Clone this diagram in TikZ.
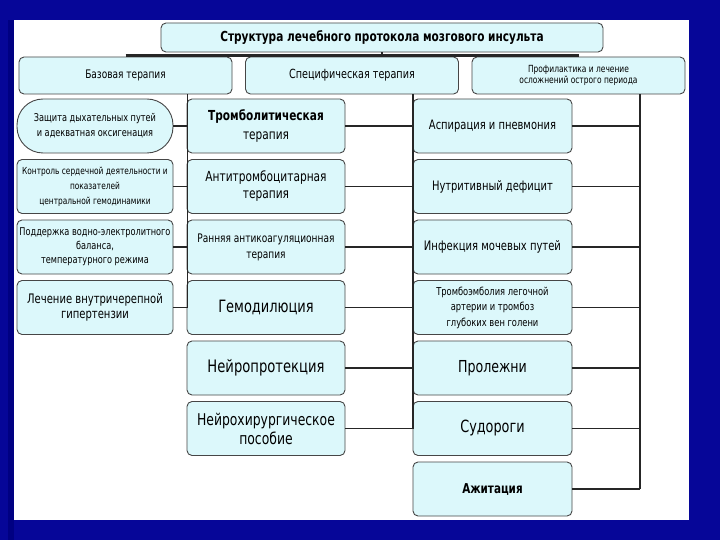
\documentclass[tikz,border=0pt]{standalone}
\usepackage{fontspec}
\setmainfont{DejaVu Sans Condensed}[FakeStretch=0.85]
\newcommand\myfs[2]{\fontsize{#1}{#2}\selectfont}
\definecolor{navy}{RGB}{6,6,152}
\definecolor{navydark}{RGB}{0,0,130}
\definecolor{boxfill}{RGB}{220,248,251}
\definecolor{boxline}{RGB}{70,70,70}
\tikzset{
  box/.style={draw=boxline, fill=boxfill, line width=0.9pt, rounded corners=5pt,
    align=center, inner sep=1pt, text=black},
  lcol/.style={box, minimum width=156pt, minimum height=54pt},
  mcol/.style={box, minimum width=158pt, minimum height=54pt},
  rcol/.style={box, minimum width=159pt, minimum height=54pt},
  head/.style={box, minimum width=213pt, minimum height=37pt},
  link/.style={line width=1.6pt, draw=black!85},
}
\begin{document}
\begin{tikzpicture}[x=1pt,y=-1pt]
\useasboundingbox (0,0) rectangle (720,540);
\fill[navy] (0,0) rectangle (720,540);
\fill[navydark] (8,20) rectangle (14,540);
\fill[white] (14,20) rectangle (689,520);

% title and heads
\node[box, minimum width=442pt, minimum height=29pt, font=\myfs{13.8}{15}\bfseries] (title) at (382,37.5)
  {Структура лечебного протокола мозгового инсульта};
\node[head, font=\myfs{11.8}{14}] (baz) at (125.5,75.5) {Базовая терапия};
\node[head, font=\myfs{12.6}{14}] (spec) at (352,75.5) {Специфическая терапия};
\node[head, font=\myfs{9.8}{11.5}] (prof) at (578.5,75.5) {Профилактика и лечение\\осложнений острого периода};

% left column
\node[lcol, rounded corners=26pt, font=\myfs{10.7}{15}] (l1) at (95,126) {Защита дыхательных путей\\и адекватная оксигенация};
\node[lcol, font=\myfs{9.7}{15}] (l2) at (95,186.5) {Контроль сердечной деятельности и\\показателей\\центральной гемодинамики};
\node[lcol, font=\myfs{10.7}{14}] (l3) at (95,247) {Поддержка водно-электролитного\\баланса,\\температурного режима};
\node[lcol, font=\myfs{13.1}{14.5}] (l4) at (95,307.5) {Лечение внутричерепной\\гипертензии};

% middle column
\node[mcol, font=\myfs{13.8}{19}] (m1) at (266,126) {{\bfseries Тромболитическая}\\терапия};
\node[mcol, font=\myfs{13.9}{17}] (m2) at (266,186.5) {Антитромбоцитарная\\терапия};
\node[mcol, font=\myfs{11.8}{16}] (m3) at (266,247) {Ранняя антикоагуляционная\\терапия};
\node[mcol, font=\myfs{17}{19}] (m4) at (266,307.5) {Гемодилюция};
\node[mcol, font=\myfs{17.2}{19}] (m5) at (266,368) {Нейропротекция};
\node[mcol, font=\myfs{16.2}{19}] (m6) at (266,428.5) {Нейрохирургическое\\пособие};

% right column
\node[rcol, font=\myfs{13}{15}] (r1) at (492.5,126) {Аспирация и пневмония};
\node[rcol, font=\myfs{13}{15}] (r2) at (492.5,186.5) {Нутритивный дефицит};
\node[rcol, font=\myfs{13.1}{15}] (r3) at (492.5,247) {Инфекция мочевых путей};
\node[rcol, font=\myfs{10.9}{15.5}] (r4) at (492.5,307.5) {Тромбоэмболия легочной\\артерии и тромбоз\\глубоких вен голени};
\node[rcol, font=\myfs{16.5}{19}] (r5) at (492.5,368) {Пролежни};
\node[rcol, font=\myfs{16.8}{19}] (r6) at (492.5,428.5) {Судороги};
\node[rcol, font=\myfs{13.6}{15}\bfseries] (r7) at (492.5,489) {Ажитация};

% title bar
\coordinate (bar) at (0,55.5);
\draw[link, line width=2.2pt] (baz.north |- bar) -- (prof.north |- bar);
\draw[link] (title.south) -- (title.south |- bar);

% buses
\coordinate (lbus) at (187.5,0);
\coordinate (mbus) at (413,0);
\coordinate (rbus) at (640,0);
\draw[link] (baz.south -| lbus) -- (lbus |- l4.east);
\draw[link] (spec.south -| mbus) -- (mbus |- m6.east);
\draw[link] (prof.south -| rbus) -- (rbus |- r7.east);
\foreach \n in {l1,l2,l3,l4} \draw[link] (\n.east) -- (\n.east -| lbus);
\foreach \n in {m1,m2,m3,m4,m5,m6} \draw[link] (\n.east) -- (\n.east -| mbus);
\foreach \n in {r1,r2,r3,r4,r5,r6,r7} \draw[link] (\n.east) -- (\n.east -| rbus);
\end{tikzpicture}
\end{document}
